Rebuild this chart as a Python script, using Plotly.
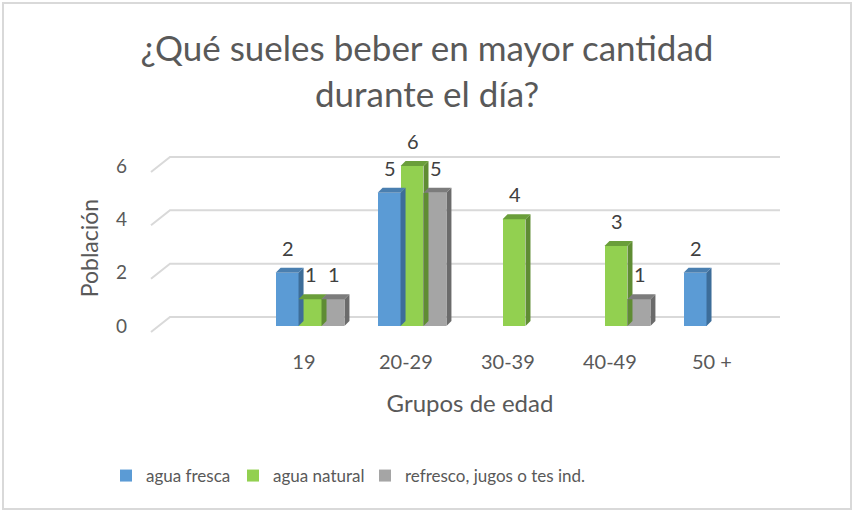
import plotly.graph_objects as go

# ---- data ----
categories = ["19", "20-29", "30-39", "40-49", "50 +"]
series_names = ["agua fresca", "agua natural", "refresco, jugos o tes ind."]
agua_fresca = [2, 5, 0, 0, 2]
agua_natural = [1, 6, 4, 3, 0]
refresco = [1, 5, 0, 1, 0]
y_ticks = [0, 2, 4, 6]

series_values = [agua_fresca, agua_natural, refresco]
front_colors = ["#5b9bd5", "#92d050", "#a5a5a5"]
side_colors = ["#3d6d99", "#5f8c33", "#6b6b6b"]
top_colors = ["#4a7fb0", "#6a9e3a", "#7c7c7c"]

W, H = 854, 514
ML, MR, MT, MB = 150, 64, 150, 168
XR = [-1.569, 4.706]
YR = [-0.75, 6.6]
bar_w = 0.225
offsets = [-bar_w, 0.0, bar_w]
depth = 5  # px of 3D depth
FONT = "Lato"
pw = W - ML - MR
ph = H - MT - MB
px_per_x = pw / (XR[1] - XR[0])
px_per_y = ph / (YR[1] - YR[0])

fig = go.Figure()

shapes = []
# back-wall gridlines with floor diagonal
for v in y_ticks:
    shapes.append(dict(
        type="path", xref="x", yref="y",
        xsizemode="pixel", ysizemode="pixel",
        xanchor=XR[0], yanchor=v,
        path="M 1,-6 L 20,9 L 630,9",
        line=dict(color="#d9d9d9", width=2),
        layer="below",
    ))

annotations = []
legend_x = [106, 233, 365]
legend_names = ["legend", "legend2", "legend3"]
for s, (name, vals) in enumerate(zip(series_names, series_values)):
    xs = [i + offsets[s] for i, v in enumerate(vals) if v]
    ys = [v for v in vals if v]
    fig.add_trace(go.Bar(
        x=xs, y=ys, width=bar_w, name=name,
        marker=dict(color=front_colors[s], line=dict(width=0)),
        hoverinfo="skip", legend=legend_names[s],
    ))
    for x, v in zip(xs, ys):
        xr = x + bar_w / 2
        xl = x - bar_w / 2
        hpx = v * px_per_y
        wpx = bar_w * px_per_x
        # side face
        shapes.append(dict(
            type="path", xref="x", yref="y",
            xsizemode="pixel", ysizemode="pixel",
            xanchor=xr, yanchor=0,
            path=f"M 0,0 L 0,{hpx:.2f} L {depth},{hpx+depth:.2f} L {depth},{depth} Z",
            fillcolor=side_colors[s], line=dict(width=0), layer="above",
        ))
        # top face
        shapes.append(dict(
            type="path", xref="x", yref="y",
            xsizemode="pixel", ysizemode="pixel",
            xanchor=xl, yanchor=v,
            path=f"M 0,0 L {wpx:.2f},0 L {wpx+depth:.2f},{depth} L {depth},{depth} Z",
            fillcolor=top_colors[s], line=dict(width=0), layer="above",
        ))
        annotations.append(dict(
            x=x, y=v, xref="x", yref="y", text=str(v), showarrow=False,
            yshift=25, xshift=1, font=dict(family=FONT, size=20, color="#404040"),
        ))

# outer chart border
shapes.append(dict(
    type="rect", xref="paper", yref="paper",
    x0=(3 - ML) / pw, x1=(851 - ML) / pw,
    y0=(H - MB - 509) / ph, y1=(H - MB - 3) / ph,
    line=dict(color="#d9d9d9", width=2), fillcolor="rgba(0,0,0,0)",
))

legend_common = dict(
    orientation="h", xanchor="left", yanchor="middle",
    y=(H - MB - 476) / ph,
    font=dict(family=FONT, size=17, color="#595959"),
    itemclick=False, itemdoubleclick=False, bgcolor="rgba(0,0,0,0)",
)

fig.update_layout(
    width=W, height=H,
    margin=dict(l=ML, r=MR, t=MT, b=MB, pad=0),
    paper_bgcolor="white", plot_bgcolor="white",
    barmode="overlay",
    bargap=0,
    title=dict(
        text="¿Qué sueles beber en mayor cantidad<br>durante el día?",
        x=0.5, xref="container", xanchor="center",
        y=1 - 61 / H, yanchor="top",
        font=dict(family=FONT, size=35, color="#595959"),
    ),
    xaxis=dict(
        range=XR, showgrid=False, zeroline=False, showline=False,
        tickvals=[i - 0.06 for i in range(len(categories))],
        ticktext=categories, ticks="",
        ticklabelstandoff=2,
        tickfont=dict(family=FONT, size=20, color="#595959"),
        title=dict(text="Grupos de edad", standoff=23,
                   font=dict(family=FONT, size=24, color="#595959")),
        fixedrange=True, automargin=False,
    ),
    yaxis=dict(
        range=YR, showgrid=False, zeroline=False, showline=False,
        tickvals=y_ticks, ticks="",
        ticklabelstandoff=22,
        tickfont=dict(family=FONT, size=19, color="#595959"),
        title=dict(text="Población", standoff=10,
                   font=dict(family=FONT, size=23, color="#595959")),
        fixedrange=True, automargin=False,
    ),
    legend=dict(x=(legend_x[0] - ML) / pw, **legend_common),
    legend2=dict(x=(legend_x[1] - ML) / pw, **legend_common),
    legend3=dict(x=(legend_x[2] - ML) / pw, **legend_common),
    shapes=shapes,
    annotations=annotations,
    showlegend=True,
)

fig.write_html("out.html", config={"displayModeBar": False},
               post_script="document.body.style.margin='0px';")
